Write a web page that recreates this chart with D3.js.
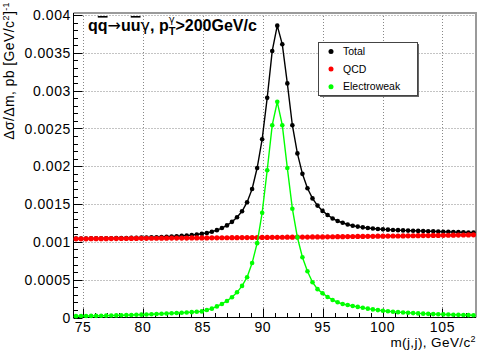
<!DOCTYPE html>
<html>
<head>
<meta charset="utf-8">
<script src="https://cdn.jsdelivr.net/npm/d3@7"></script>
<style>
  body { margin: 0; background: #fff; }
  text { font-family: "Liberation Sans", Arial, Helvetica, sans-serif; }
</style>
</head>
<body>
<svg id="chart" width="491" height="353"></svg>
<script>
// bin centres (GeV/c^2), 80 bins of 0.42 between 74.2 and 107.8
const massBins = [74.41, 74.83, 75.25, 75.67, 76.09, 76.51, 76.93, 77.35, 77.77, 78.19,
  78.61, 79.03, 79.45, 79.87, 80.29, 80.71, 81.13, 81.55, 81.97, 82.39,
  82.81, 83.23, 83.65, 84.07, 84.49, 84.91, 85.33, 85.75, 86.17, 86.59,
  87.01, 87.43, 87.85, 88.27, 88.69, 89.11, 89.53, 89.95, 90.37, 90.79,
  91.21, 91.63, 92.05, 92.47, 92.89, 93.31, 93.73, 94.15, 94.57, 94.99,
  95.41, 95.83, 96.25, 96.67, 97.09, 97.51, 97.93, 98.35, 98.77, 99.19,
  99.61, 100.03, 100.45, 100.87, 101.29, 101.71, 102.13, 102.55, 102.97, 103.39,
  103.81, 104.23, 104.65, 105.07, 105.49, 105.91, 106.33, 106.75, 107.17, 107.59];

// values in units of 1e-3 pb/(GeV/c^2)
const totalVals = [1.044, 1.045, 1.045, 1.046, 1.047, 1.047, 1.048, 1.049, 1.050, 1.051,
  1.052, 1.053, 1.054, 1.056, 1.058, 1.060, 1.062, 1.065, 1.068, 1.071,
  1.075, 1.079, 1.084, 1.090, 1.098, 1.107, 1.118, 1.134, 1.155, 1.183,
  1.218, 1.265, 1.325, 1.405, 1.525, 1.700, 1.977, 2.358, 2.905, 3.525,
  3.860, 3.613, 3.096, 2.543, 2.170, 1.900, 1.710, 1.575, 1.480, 1.410,
  1.355, 1.310, 1.276, 1.253, 1.230, 1.214, 1.202, 1.192, 1.184, 1.177,
  1.171, 1.166, 1.162, 1.158, 1.155, 1.152, 1.149, 1.147, 1.145, 1.143,
  1.141, 1.139, 1.137, 1.135, 1.133, 1.131, 1.129, 1.127, 1.125, 1.123];

const qcdVals = [1.040, 1.041, 1.041, 1.042, 1.042, 1.043, 1.043, 1.044, 1.044, 1.045,
  1.045, 1.046, 1.046, 1.047, 1.047, 1.048, 1.048, 1.049, 1.049, 1.050,
  1.050, 1.051, 1.051, 1.052, 1.052, 1.053, 1.053, 1.054, 1.054, 1.055,
  1.055, 1.056, 1.056, 1.057, 1.057, 1.058, 1.058, 1.059, 1.059, 1.060,
  1.060, 1.061, 1.062, 1.062, 1.063, 1.064, 1.064, 1.065, 1.066, 1.066,
  1.067, 1.068, 1.069, 1.069, 1.070, 1.071, 1.072, 1.072, 1.073, 1.074,
  1.075, 1.076, 1.077, 1.078, 1.078, 1.079, 1.080, 1.081, 1.082, 1.083,
  1.084, 1.085, 1.086, 1.087, 1.088, 1.089, 1.090, 1.091, 1.092, 1.093];

const ewVals = [0.018, 0.019, 0.020, 0.021, 0.022, 0.023, 0.025, 0.026, 0.028, 0.030,
  0.032, 0.034, 0.036, 0.038, 0.040, 0.043, 0.046, 0.049, 0.052, 0.056,
  0.060, 0.063, 0.067, 0.071, 0.076, 0.081, 0.100, 0.117, 0.147, 0.179,
  0.219, 0.267, 0.333, 0.418, 0.532, 0.720, 0.983, 1.386, 1.947, 2.543,
  2.852, 2.543, 1.977, 1.439, 1.060, 0.797, 0.611, 0.466, 0.375, 0.320,
  0.272, 0.232, 0.202, 0.178, 0.165, 0.152, 0.140, 0.128, 0.117, 0.107,
  0.098, 0.090, 0.083, 0.077, 0.071, 0.066, 0.062, 0.058, 0.054, 0.051,
  0.048, 0.045, 0.043, 0.041, 0.039, 0.037, 0.035, 0.033, 0.032, 0.030];

const yTicks = [0, 0.0005, 0.001, 0.0015, 0.002, 0.0025, 0.003, 0.0035, 0.004];
const yTickLabels = ["0", "0.0005", "0.001", "0.0015", "0.002", "0.0025", "0.003", "0.0035", "0.004"];
const xTicks = [75, 80, 85, 90, 95, 100, 105];

const series = [
  { name: "Total", vals: totalVals, color: "#000000", r: 2.3, lw: 1.4 },
  { name: "QCD", vals: qcdVals, color: "#ff0000", r: 2.6, lw: 2 },
  { name: "Electroweak", vals: ewVals, color: "#00ff00", r: 2.3, lw: 1.4 }
];

const svg = d3.select("#chart");
const plotL = 73.5, plotR = 476, plotT = 13, plotB = 317.5;

const x = d3.scaleLinear().domain([74.2, 107.8]).range([plotL, plotR]);
const y = d3.scaleLinear().domain([0, 0.004027]).range([plotB, plotT]);

svg.append("rect").attr("width", 491).attr("height", 353).attr("fill", "#fff");

// grid
const grid = svg.append("g").attr("stroke", "#888").attr("stroke-width", 1).attr("stroke-dasharray", "1,2");
grid.selectAll(".gx").data(xTicks).join("line")
  .attr("x1", d => Math.round(x(d)) + 0.5).attr("x2", d => Math.round(x(d)) + 0.5)
  .attr("y1", plotT).attr("y2", plotB);
grid.selectAll(".gy").data(yTicks.filter(d => d > 0)).join("line")
  .attr("y1", d => Math.round(y(d)) + 0.5).attr("y2", d => Math.round(y(d)) + 0.5)
  .attr("x1", plotL).attr("x2", plotR);

// frame top/right
svg.append("path")
  .attr("d", `M${plotL},${plotT} H${plotR} V${plotB}`)
  .attr("fill", "none").attr("stroke", "#9a9a9a").attr("stroke-width", 2);

// axes with ROOT style inward ticks
const axes = svg.append("g").attr("stroke", "#000").attr("stroke-width", 1);
axes.append("line").attr("x1", plotL).attr("x2", plotL).attr("y1", plotT).attr("y2", plotB + 0.5);
axes.append("line").attr("x1", plotL).attr("x2", plotR).attr("y1", plotB).attr("y2", plotB);

const yMinor = d3.range(0, 0.00402, 0.0001);
axes.selectAll(".ty").data(yMinor).join("line")
  .attr("x1", plotL).attr("x2", (d, i) => plotL + (i % 5 === 0 ? 9 : 4.5))
  .attr("y1", d => Math.round(y(d)) + 0.5).attr("y2", d => Math.round(y(d)) + 0.5);

const xMinor = d3.range(75, 108, 1);
axes.selectAll(".tx").data(xMinor).join("line")
  .attr("y1", plotB).attr("y2", d => plotB - (d % 5 === 0 ? 9 : 4.5))
  .attr("x1", d => Math.round(x(d)) + 0.5).attr("x2", d => Math.round(x(d)) + 0.5);

svg.append("g").selectAll("text").data(yTicks).join("text")
  .attr("x", 71).attr("y", d => y(d)).attr("dy", "0.36em")
  .attr("text-anchor", "end").attr("font-size", 14).attr("letter-spacing", 0.6)
  .text((d, i) => yTickLabels[i]);

svg.append("g").selectAll("text").data(xTicks).join("text")
  .attr("x", d => x(d)).attr("y", 331.5)
  .attr("text-anchor", "middle").attr("font-size", 14).attr("letter-spacing", 0.6)
  .text(d => d);

// series
const line = d3.line().x((d, i) => x(massBins[i])).y(d => y(d * 1e-3));
series.forEach(s => {
  const g = svg.append("g");
  g.append("path").attr("d", line(s.vals)).attr("fill", "none")
    .attr("stroke", s.color).attr("stroke-width", s.lw);
  g.selectAll("circle").data(s.vals).join("circle")
    .attr("cx", (d, i) => x(massBins[i])).attr("cy", d => y(d * 1e-3))
    .attr("r", s.r).attr("fill", s.color);
});

// legend
const lg = svg.append("g");
lg.append("rect").attr("x", 320).attr("y", 44).attr("width", 99).attr("height", 53).attr("fill", "#666");
lg.append("rect").attr("x", 318.5).attr("y", 42.5).attr("width", 99).attr("height", 53)
  .attr("fill", "#fff").attr("stroke", "#444").attr("stroke-width", 1);
series.forEach((s, i) => {
  lg.append("circle").attr("cx", 331).attr("cy", 51.5 + i * 17.6).attr("r", 2.5).attr("fill", s.color);
  lg.append("text").attr("x", 343).attr("y", 51.5 + i * 17.6).attr("dy", "0.35em")
    .attr("font-size", 10.5).text(s.name);
});

// title with sub/superscripts built piece by piece
function pieces(parent, x0, y0, parts) {
  let cx = x0;
  parts.forEach(p => {
    const t = parent.append("text").attr("x", cx).attr("y", y0 + (p.dy || 0))
      .attr("font-size", p.size).attr("font-weight", p.weight || "normal")
      .text(p.text);
    if (p.over) t.style("text-decoration", "overline");
    if (p.font) t.style("font-family", p.font);
    if (!p.stack) cx += t.node().getComputedTextLength() + (p.gap || 0);
  });
  return cx;
}
const title = svg.append("g");
pieces(title, 88, 31, [
  { text: "q", size: 16, weight: "bold" },
  { text: "q", size: 16, weight: "bold", over: true },
  { text: "\u2192", size: 16, font: "DejaVu Sans" },
  { text: "u", size: 16, weight: "bold" },
  { text: "u", size: 16, weight: "bold", over: true },
  { text: "\u03b3", size: 16, font: "DejaVu Sans" },
  { text: ", p", size: 16, weight: "bold" },
  { text: "\u03b3", size: 10, dy: -8, stack: true, font: "DejaVu Sans" },
  { text: "T", size: 11, weight: "bold", dy: 4 },
  { text: ">200GeV/c", size: 16, weight: "bold" }
]);

// axis titles
const xt = svg.append("text").attr("x", 476).attr("y", 347).attr("text-anchor", "end")
  .attr("font-size", 13.5).attr("letter-spacing", 0.4);
xt.append("tspan").text("m(j,j), GeV/c");
xt.append("tspan").attr("dy", -5).attr("font-size", 9).text("2");

const yt = svg.append("text").attr("transform", "translate(14,2) rotate(-90)")
  .attr("text-anchor", "end").attr("font-size", 14).attr("letter-spacing", 0.4);
yt.append("tspan").text("\u0394\u03c3/\u0394m, pb [GeV/c");
yt.append("tspan").attr("dy", -5).attr("font-size", 9).text("2");
yt.append("tspan").attr("dy", 5).text("]");
yt.append("tspan").attr("dy", -5).attr("font-size", 9).text("-1");
</script>
</body>
</html>
